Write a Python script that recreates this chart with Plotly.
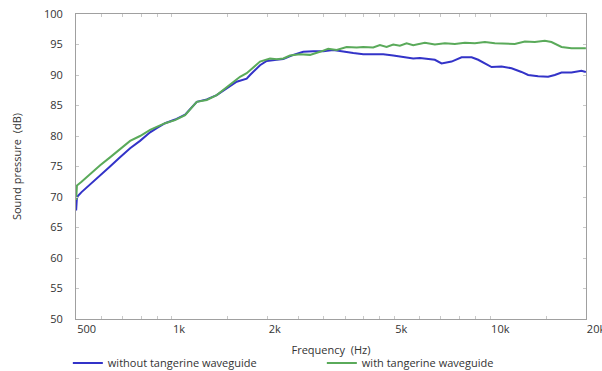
import plotly.graph_objects as go
import math

# Frequencies (Hz) and sound pressure (dB)
freq_without = [500, 503, 520, 553, 595, 639, 687, 739, 794, 854, 896, 952, 1023, 1100,
                1197, 1287, 1383, 1487, 1598, 1718, 1760, 1892, 1986, 2135, 2239, 2407,
                2587, 2782, 2990, 3214, 3455, 3715, 3993, 4292, 4614, 4961, 5207, 5465,
                5733, 6017, 6238, 6705, 7039, 7568, 8136, 8748, 9175, 9631, 10110, 10865,
                11680, 12550, 13170, 14160, 15220, 15970, 16770, 18020, 19370, 20000]
spl_without = [67.8, 70.0, 70.8, 72.1, 73.6, 75.0, 76.5, 78.0, 79.2, 80.6, 81.3, 82.1, 82.7, 83.5,
               85.6, 86.0, 86.7, 87.8, 88.9, 89.4, 90.0, 91.6, 92.3, 92.5, 92.6, 93.3,
               93.8, 93.9, 93.9, 94.1, 93.8, 93.6, 93.4, 93.4, 93.4, 93.2, 93.0, 92.8,
               92.7, 92.8, 92.7, 92.5, 91.9, 92.2, 92.9, 92.9, 92.5, 91.9, 91.3, 91.4,
               91.1, 90.5, 90.0, 89.8, 89.7, 90.0, 90.4, 90.4, 90.7, 90.5]

freq_with = [500, 503, 520, 553, 595, 639, 687, 722, 739, 794, 854, 896, 952, 1023, 1100,
             1197, 1287, 1383, 1487, 1598, 1637, 1718, 1760, 1892, 2034, 2135, 2239, 2350,
             2526, 2716, 2919, 3100, 3294, 3541, 3808, 3993, 4292, 4506, 4728, 4961, 5207,
             5465, 5733, 6017, 6238, 6705, 7209, 7750, 8332, 8959, 9631, 10350, 11130,
             11960, 12860, 13820, 14860, 15590, 16770, 18020, 19370, 20000]
spl_with = [69.5, 71.9, 72.5, 73.8, 75.2, 76.5, 77.9, 78.8, 79.2, 80.0, 81.0, 81.5, 82.1, 82.6, 83.4,
            85.6, 85.9, 86.7, 88.0, 89.3, 89.7, 90.3, 90.8, 92.2, 92.7, 92.6, 92.7, 93.2,
            93.4, 93.3, 93.8, 94.3, 94.1, 94.6, 94.5, 94.6, 94.5, 94.9, 94.6, 95.0, 94.8,
            95.2, 94.9, 95.2, 95.3, 95.0, 95.2, 95.1, 95.3, 95.2, 95.4, 95.2, 95.1,
            95.1, 95.5, 95.4, 95.6, 95.4, 94.6, 94.4, 94.4, 94.4]

tick_vals = [500, 600, 700, 800, 900, 1000, 1500, 2000, 2500, 3000, 3500, 4000, 4500,
             5000, 6000, 7000, 8000, 9000, 10000, 15000, 20000]
tick_text = ["500", "", "", "", "", "1k", "", "2k", "", "", "", "", "",
             "5k", "", "", "", "", "10k", "", "20k"]
y_ticks = [50, 55, 60, 65, 70, 75, 80, 85, 90, 95, 100]

FONT = "Open Sans"
TXT = "#333333"

fig = go.Figure()
fig.add_trace(go.Scatter(x=freq_without, y=spl_without, mode="lines",
                         name="without tangerine waveguide",
                         line=dict(color="#3333c8", width=2)))
fig.add_trace(go.Scatter(x=freq_with, y=spl_with, mode="lines",
                         name="with tangerine waveguide",
                         line=dict(color="#5aaa5a", width=2)))

fig.update_layout(
    width=602, height=371,
    margin=dict(l=76, r=16, t=14, b=52, autoexpand=False),
    paper_bgcolor="white", plot_bgcolor="white",
    font=dict(family=FONT, size=11, color=TXT),
    showlegend=True,
    legend=dict(orientation="h", x=-0.016, y=-0.144, xanchor="left", yanchor="middle",
                entrywidth=209, entrywidthmode="pixels",
                font=dict(family=FONT, size=11, color=TXT),
                bgcolor="rgba(0,0,0,0)", itemwidth=30),
)
fig.update_xaxes(
    type="log", range=[math.log10(500) - 0.0004, math.log10(20000) + 0.0004],
    tickvals=tick_vals, ticktext=tick_text,
    ticks="inside", ticklen=3, tickcolor="#c8c8c8",
    ticklabelposition="outside right", ticklabeloverflow="allow",
    showline=True, linecolor="#a0a0a0", linewidth=1, mirror="allticks",
    showgrid=False, zeroline=False, automargin=False,
    title=dict(text="Frequency\u00a0 (Hz)", standoff=11, font=dict(family=FONT, size=11, color=TXT)),
    tickfont=dict(family=FONT, size=11, color=TXT),
)
fig.update_yaxes(
    range=[50, 100], tickvals=y_ticks,
    ticks="inside", ticklen=3, tickcolor="#c8c8c8",
    showline=True, linecolor="#a0a0a0", linewidth=1, mirror="allticks",
    showgrid=False, zeroline=False, ticklabelstandoff=10, automargin=False,
    title=dict(text="Sound pressure\u00a0 (dB)", standoff=20, font=dict(family=FONT, size=11, color=TXT)),
    tickfont=dict(family=FONT, size=11, color=TXT),
)

fig.write_html("out.html", config={"displayModeBar": False},
               post_script="document.body.style.margin='0';document.body.style.overflow='hidden';")
